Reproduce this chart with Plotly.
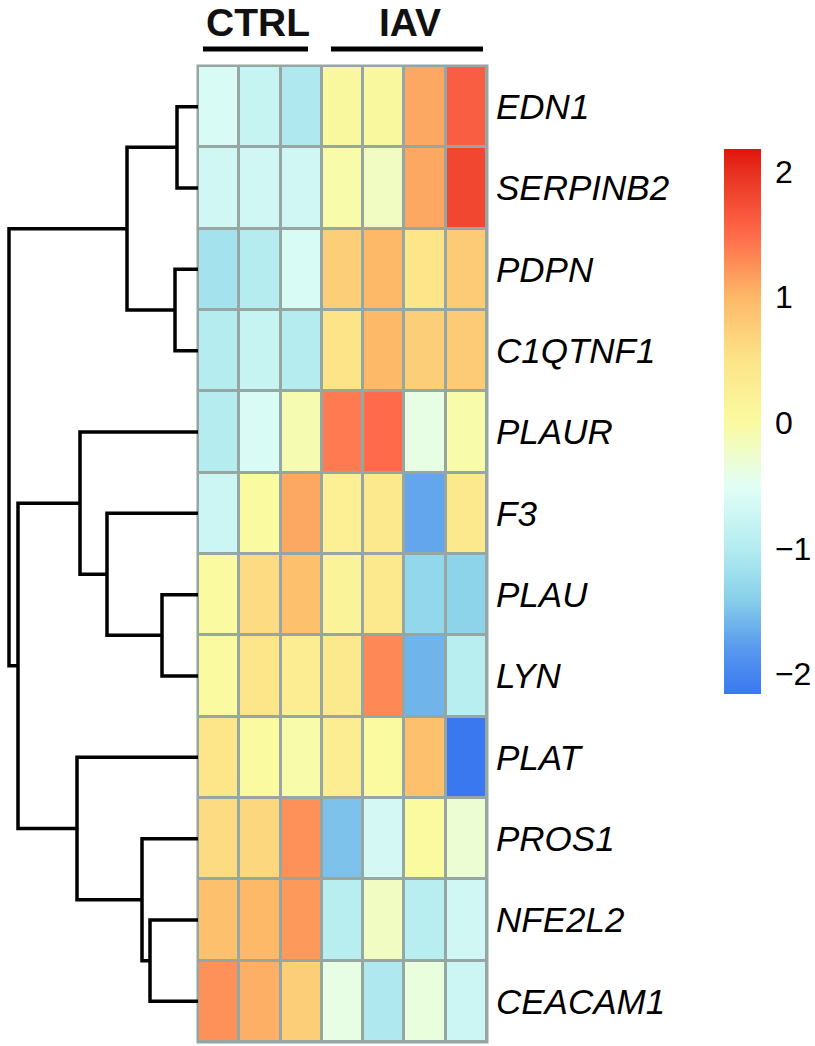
import plotly.graph_objects as go

W, H = 815, 1046

genes = ["EDN1", "SERPINB2", "PDPN", "C1QTNF1", "PLAUR", "F3",
         "PLAU", "LYN", "PLAT", "PROS1", "NFE2L2", "CEACAM1"]
samples = ["CTRL_1", "CTRL_2", "CTRL_3", "IAV_1", "IAV_2", "IAV_3", "IAV_4"]
groups = ["CTRL", "IAV"]

z = [
    [-0.60, -0.80, -1.05, 0.05, 0.05, 1.10, 1.60],
    [-0.70, -0.70, -0.70, -0.05, -0.20, 1.10, 1.80],
    [-1.15, -1.00, -0.60, 0.75, 1.00, 0.45, 0.80],
    [-1.00, -0.80, -1.00, 0.50, 1.00, 0.75, 0.80],
    [-1.00, -0.60, -0.10, 1.40, 1.50, -0.40, -0.05],
    [-0.75, 0.00, 1.10, 0.25, 0.40, -1.70, 0.40],
    [0.00, 0.60, 0.90, 0.15, 0.40, -1.30, -1.35],
    [0.00, 0.45, 0.30, 0.40, 1.30, -1.60, -0.95],
    [0.45, 0.00, -0.05, 0.30, 0.00, 0.90, -2.16],
    [0.60, 0.65, 1.25, -1.50, -0.65, 0.00, -0.30],
    [0.90, 1.00, 1.20, -0.95, -0.20, -0.95, -0.70],
    [1.25, 1.05, 0.75, -0.40, -1.05, -0.35, -0.75],
]

# row dendrogram: (left child, right child, height); leaves are 0..11
merges = [
    (0, 1, 2.1), (2, 3, 2.3), (12, 13, 7.1), (6, 7, 3.6), (5, 15, 9.1),
    (4, 16, 11.8), (10, 11, 4.8), (9, 18, 5.6), (8, 19, 12.1),
    (17, 20, 18.0), (14, 21, 18.9),
]

zmin, zmax = -2.16, 2.18
stops = [(-2.16, "#3a78f0"), (-1.8, "#5898ee"), (-1.4, "#88d0ea"),
         (-1.0, "#b4ecf0"), (-0.5, "#e2fff6"), (0.0, "#fafaa0"),
         (0.5, "#fde488"), (1.0, "#fdb868"), (1.5, "#ff6a4a"),
         (2.0, "#e83020"), (2.18, "#e0140a")]
colorscale = [[(v - zmin) / (zmax - zmin), c] for v, c in stops]

grey = "#96a6a3"
font = "Liberation Sans, Arial, sans-serif"

# dendrogram line segments
pos = {i: float(i) for i in range(len(genes))}
hgt = {i: 0.0 for i in range(len(genes))}
dx, dy = [], []
for k, (a, b, h) in enumerate(merges):
    node = len(genes) + k
    dx += [hgt[a], h, h, hgt[b], None]
    dy += [pos[a], pos[a], pos[b], pos[b], None]
    pos[node] = (pos[a] + pos[b]) / 2
    hgt[node] = h

hm_x0, hm_x1 = 198 / W, 487 / W
hm_y0, hm_y1 = 1 - 1042 / H, 1 - 66 / H

fig = go.Figure()
fig.add_trace(go.Heatmap(
    z=z, x=list(range(len(samples))), y=list(range(len(genes))),
    zmin=zmin, zmax=zmax, colorscale=colorscale, xgap=3, ygap=3,
    colorbar=dict(x=724 / W, xanchor="left", xpad=0, ypad=0,
                  y=1 - 421.5 / H, yanchor="middle",
                  len=545, lenmode="pixels", thickness=37,
                  outlinewidth=0, ticks="outside", ticklen=8,
                  tickcolor="rgba(0,0,0,0)", tickvals=[-2, -1, 0, 1, 2],
                  tickfont=dict(size=32, color="black", family=font)),
))
fig.add_trace(go.Scatter(x=dx, y=dy, mode="lines", xaxis="x2", yaxis="y",
                         line=dict(color="black", width=3.5),
                         hoverinfo="skip", showlegend=False))

fig.add_shape(type="rect", xref="x domain", yref="y domain",
              x0=0, x1=1, y0=0, y1=1, layer="below",
              fillcolor=grey, line=dict(color=grey, width=3))

# group header bars and labels
spans = {"CTRL": (203, 308, 258), "IAV": (331, 483, 410)}
for g in groups:
    x0, x1, xc = spans[g]
    fig.add_shape(type="line", xref="paper", yref="paper",
                  x0=x0 / W, x1=x1 / W, y0=1 - 49 / H, y1=1 - 49 / H,
                  line=dict(color="black", width=5))
    fig.add_annotation(text="<b>" + g + "</b>", xref="paper", yref="paper",
                       x=xc / W, y=1 - 22 / H, xanchor="center", yanchor="middle",
                       showarrow=False,
                       font=dict(size=39, color="#111111", family=font))

fig.update_layout(
    width=W, height=H, margin=dict(l=0, r=0, t=0, b=0),
    paper_bgcolor="white", plot_bgcolor="white",
    xaxis=dict(domain=[hm_x0, hm_x1], range=[-0.5, 6.5], showticklabels=False,
               showgrid=False, zeroline=False, ticks=""),
    yaxis=dict(domain=[hm_y0, hm_y1], range=[11.5, -0.5], side="right",
               tickvals=list(range(len(genes))), ticktext=genes, ticks="",
               showgrid=False, zeroline=False, ticklabelstandoff=8,
               tickfont=dict(size=35, color="black", family=font, style="italic")),
    xaxis2=dict(domain=[0, hm_x0], range=[19.8, 0], anchor="y", visible=False),
)

fig.write_html("out.html", config={"displayModeBar": False},
               post_script="document.body.style.margin='0';")
